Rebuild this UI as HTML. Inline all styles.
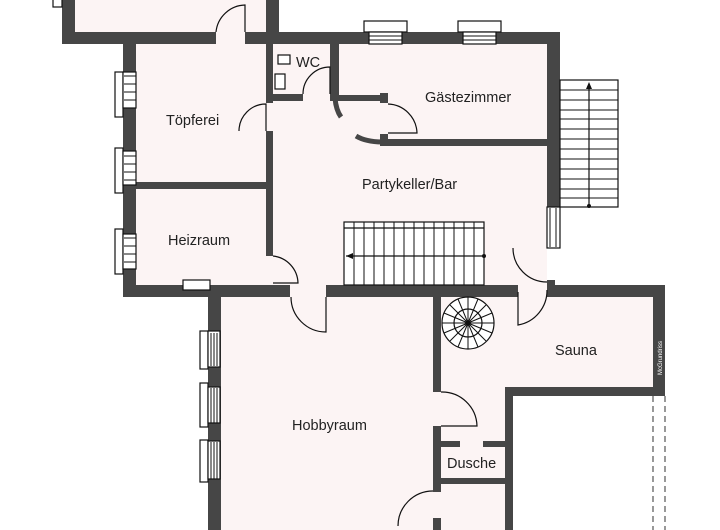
<!DOCTYPE html>
<html><head><meta charset="utf-8"><style>
html,body{margin:0;padding:0;background:#fff;width:720px;height:530px;overflow:hidden}
svg{display:block}
text{font-family:"Liberation Sans",Arial,sans-serif;fill:#222;font-size:14.5px}
</style></head><body>
<svg width="720" height="530" viewBox="0 0 720 530" xmlns="http://www.w3.org/2000/svg">
<g fill="#fcf4f4">
<rect x="75" y="0" width="191" height="32"/>
<rect x="136" y="44" width="132" height="241"/>
<rect x="273" y="44" width="274" height="241"/>
<rect x="290" y="283" width="36" height="16"/>
<rect x="518" y="283" width="29" height="16"/>
<rect x="214" y="30" width="32" height="16"/>
<rect x="264" y="102" width="12" height="30"/>
<rect x="264" y="255" width="12" height="30"/>
<rect x="300" y="92" width="32" height="12"/>
<rect x="220" y="297" width="213" height="233"/>
<rect x="441" y="297" width="212" height="90"/>
<rect x="441" y="387" width="64" height="143"/>
<rect x="431" y="390" width="12" height="38"/>
<rect x="431" y="490" width="12" height="30"/>
</g>
<g fill="#464646">
<rect x="62" y="0" width="13" height="44"/>
<rect x="62" y="32" width="154" height="12"/>
<rect x="245" y="32" width="34" height="12"/>
<rect x="266" y="0" width="13" height="44"/>
<rect x="123" y="32" width="13" height="265"/>
<rect x="136" y="182" width="130" height="7"/>
<rect x="266" y="44" width="7" height="59"/>
<rect x="266" y="131" width="7" height="125"/>
<rect x="123" y="285" width="167" height="12"/>
<rect x="266" y="32" width="294" height="12"/>
<rect x="547" y="32" width="13" height="175"/>
<rect x="273" y="94" width="30" height="7"/>
<rect x="330" y="44" width="9" height="56"/>
<rect x="330" y="95" width="58" height="6"/>
<rect x="380" y="93" width="8" height="10"/>
<rect x="380" y="139" width="167" height="7"/>
<rect x="380" y="134" width="8" height="12"/>
<rect x="326" y="285" width="192" height="12"/>
<rect x="547" y="285" width="118" height="12"/>
<rect x="547" y="280" width="8" height="6"/>
<rect x="208" y="285" width="13" height="245"/>
<rect x="433" y="297" width="8" height="95"/>
<rect x="433" y="426" width="8" height="66"/>
<rect x="433" y="518" width="8" height="12"/>
<rect x="441" y="441" width="19" height="6"/>
<rect x="483" y="441" width="22" height="6"/>
<rect x="441" y="478" width="64" height="6"/>
<rect x="505" y="387" width="8" height="143"/>
<rect x="505" y="387" width="160" height="9"/>
<rect x="653" y="285" width="12" height="111"/>
</g>
<g fill="none" stroke="#464646" stroke-width="5">
<path d="M335,98 Q336,110 341,117"/>
<path d="M356,136 Q366,142 383,142"/>
</g>
<g fill="#fff" stroke="#111" stroke-width="1.2">
<rect x="115" y="72" width="8" height="45"/><rect x="123" y="72" width="13" height="36"/>
<rect x="115" y="148" width="8" height="45"/><rect x="123" y="151" width="13" height="34"/>
<rect x="115" y="229" width="8" height="45"/><rect x="123" y="234" width="13" height="35"/>
<rect x="200" y="331" width="8" height="38"/><rect x="208" y="331" width="12" height="36"/>
<rect x="200" y="383" width="8" height="44"/><rect x="208" y="387" width="12" height="36"/>
<rect x="200" y="440" width="8" height="42"/><rect x="208" y="441" width="12" height="38"/>
<rect x="364" y="21" width="43" height="11"/><rect x="369" y="32" width="33" height="12"/>
<rect x="458" y="21" width="43" height="11"/><rect x="463" y="32" width="33" height="12"/>
<rect x="53" y="-2" width="9" height="9"/>
<rect x="547" y="207" width="13" height="41"/>
<rect x="560" y="80" width="58" height="127"/>
<rect x="344" y="222" width="140" height="63"/>
<circle cx="468" cy="323" r="26"/>
<rect x="278" y="55" width="12" height="9"/>
<rect x="275" y="74" width="10" height="15"/>
<rect x="183" y="280" width="27" height="10"/>
</g>
<g fill="none" stroke="#111" stroke-width="1.2">
<path d="M216,32 A30,30 0 0 1 245,5 L245,32"/>
<path d="M239,131 A27,27 0 0 1 266,104 L266,131"/>
<path d="M303,94 A27,27 0 0 1 330,67 L330,94"/>
<path d="M388,104 A30,30 0 0 1 417,133 L388,133"/>
<path d="M273,256 A28,28 0 0 1 298,283 L273,283"/>
<path d="M291,297 A35,35 0 0 0 326,332 L326,297"/>
<path d="M513,248 A34,34 0 0 0 547,282"/>
<path d="M547,290 A35,35 0 0 1 518,325 L518,292"/>
<path d="M441,392 A35,35 0 0 1 477,426 L441,426"/>
<path d="M398,526 A35,35 0 0 1 433,491"/>
<path d="M589,207 V84"/>
<path d="M344,228 H484 M346,256 H484"/>
<circle cx="468" cy="323" r="14"/>
</g>
<g stroke="#111" stroke-width="1">
<path d="M560,90H618M560,100H618M560,110H618M560,119H618M560,129H618M560,139H618M560,149H618M560,159H618M560,169H618M560,179H618M560,189H618M560,198H618"/>
<path d="M354,222V285M364,222V285M374,222V285M384,222V285M394,222V285M404,222V285M414,222V285M424,222V285M434,222V285M444,222V285M454,222V285M464,222V285M474,222V285"/>
<path d="M124,76H136M124,84H136M124,92H136M124,100H136M124,156H136M124,164H136M124,172H136M124,180H136M124,238H136M124,246H136M124,254H136M124,262H136"/>
<path d="M211,333V366M214,333V366M217,333V366M211,388V423M214,388V423M217,388V423M211,442V479M214,442V479M217,442V479"/>
<path d="M369,36H402M369,40H402M463,36H496M463,40H496"/>
<path d="M550,208V247M556,208V247"/>
<path d="M468,323L468,297M468,323L486,305M468,323L494,323M468,323L486,341M468,323L468,349M468,323L450,341M468,323L442,323M468,323L450,305M468,323L478,299M468,323L492,313M468,323L492,333M468,323L478,347M468,323L458,347M468,323L444,333M468,323L444,313M468,323L458,299"/>
</g>
<g fill="#111"><path d="M589,82 l-3,7 h6z"/><path d="M346,256 l7,-3 v6z"/><circle cx="589" cy="206" r="2"/><circle cx="484" cy="256" r="2"/><circle cx="468" cy="323" r="2"/></g>
<g stroke="#555" stroke-width="1.2" stroke-dasharray="6,4"><path d="M653,396V530M665,396V530"/></g>
<text x="166" y="125">Töpferei</text>
<text x="168" y="245">Heizraum</text>
<text x="296" y="67">WC</text>
<text x="425" y="102">Gästezimmer</text>
<text x="362" y="189">Partykeller/Bar</text>
<text x="292" y="430">Hobbyraum</text>
<text x="555" y="355">Sauna</text>
<text x="447" y="468">Dusche</text>
<text x="0" y="0" transform="translate(662,375) rotate(-90)" style="font-size:6px;fill:#fff">McGrundriss</text>
</svg>
</body></html>
